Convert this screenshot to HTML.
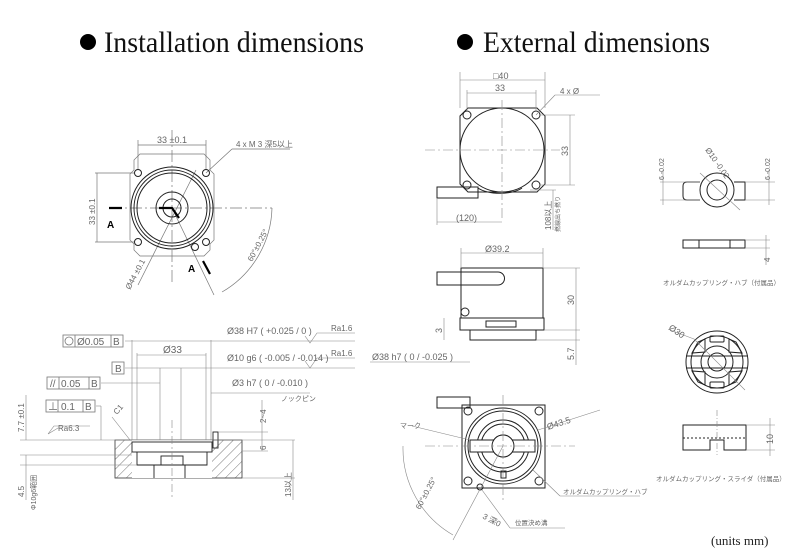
<!DOCTYPE html>
<html><head><meta charset="utf-8"><style>
html,body{margin:0;padding:0;background:#fff;}
svg{display:block;}
.t{font-family:"Liberation Sans","Noto Sans CJK JP",sans-serif;fill:#666;}
</style></head><body>
<svg width="800" height="560" viewBox="0 0 800 560" xmlns="http://www.w3.org/2000/svg">
<defs>
<pattern id="h" width="7" height="7" patternUnits="userSpaceOnUse" patternTransform="rotate(45)"><line x1="0" y1="0" x2="0" y2="7" stroke="#555" stroke-width="0.8"/></pattern>
</defs>
<rect width="800" height="560" fill="#fff"/>
<!-- titles -->
<circle cx="88" cy="42" r="8" fill="#000"/>
<text x="104" y="52" font-family="Liberation Serif,serif" font-size="30" textLength="260" lengthAdjust="spacingAndGlyphs" fill="#111">Installation dimensions</text>
<circle cx="465" cy="42" r="8" fill="#000"/>
<text x="483" y="52" font-family="Liberation Serif,serif" font-size="30" textLength="227" lengthAdjust="spacingAndGlyphs" fill="#111">External dimensions</text>
<text x="711" y="545" font-family="Liberation Serif,serif" font-size="13" fill="#222">(units mm)</text>

<g fill="none" stroke="#777" stroke-width="0.7">
<!-- TOP LEFT view -->
<path d="M134 170 L134 160 L140 154 L204 154 L210 160 L210 170 L214 174 L214 240 L210 244 L210 250 L204 256 L140 256 L134 250 L134 244 L130 240 L130 174 Z"/>
<line x1="110" y1="208" x2="272" y2="208" stroke-dasharray="12,3,2,3"/>
<line x1="172" y1="130" x2="172" y2="285" stroke-dasharray="12,3,2,3"/>
<line x1="138" y1="140" x2="138" y2="170"/><line x1="206" y1="140" x2="206" y2="170"/>
<line x1="138" y1="145" x2="206" y2="145"/>
<line x1="97" y1="173" x2="97" y2="242"/><line x1="95" y1="173" x2="135" y2="173"/><line x1="95" y1="242" x2="135" y2="242"/>
<line x1="206" y1="173" x2="232" y2="149"/><line x1="232" y1="149" x2="290" y2="149"/>
<line x1="172" y1="208" x2="214" y2="295"/>
<path d="M272 208 A100 100 0 0 1 222 292"/>
<line x1="138" y1="285" x2="196" y2="170"/>
</g>
<g fill="none" stroke="#222" stroke-width="1">
<circle cx="172" cy="208" r="41"/><circle cx="172" cy="208" r="38"/><circle cx="172" cy="208" r="35"/>
<circle cx="172" cy="208" r="16"/><circle cx="172" cy="208" r="9"/>
<circle cx="138" cy="173" r="3.5"/><circle cx="206" cy="173" r="3.5"/><circle cx="138" cy="242" r="3.5"/><circle cx="206" cy="242" r="3.5"/>
<circle cx="195" cy="247" r="3.5"/>
</g>
<path d="M109 208 L122 208 M159 208 L172 208 L179 218" stroke="#000" stroke-width="2.2" fill="none"/>
<path d="M203 261 L210 274" stroke="#000" stroke-width="2.2"/>
<text x="107" y="228" font-family="Liberation Sans,sans-serif" font-weight="bold" font-size="10">A</text>
<text x="188" y="272" font-family="Liberation Sans,sans-serif" font-weight="bold" font-size="10">A</text>
<text class="t" x="157" y="143" font-size="9">33 ±0.1</text>
<text class="t" x="236" y="147" font-size="8">4 x M 3 深5以上</text>
<text class="t" font-size="8" transform="translate(95,225) rotate(-90)">33 ±0.1</text>
<text class="t" font-size="8" transform="translate(130,290) rotate(-62)">Ø44 ±0.1</text>
<text class="t" font-size="8" transform="translate(252,262) rotate(-62)">60°±0.25°</text>

<!-- BOTTOM LEFT section -->
<rect x="115" y="440" width="127" height="38" fill="url(#h)" stroke="#333" stroke-width="0.8"/>
<rect x="132" y="440" width="80" height="38" fill="#fff" stroke="none"/>
<rect x="155" y="465" width="30" height="13" fill="#fff" stroke="none"/>
<g fill="none" stroke="#222" stroke-width="0.9">
<rect x="132" y="442" width="80" height="10"/>
<path d="M137 452 L137 465 L207 465 L207 452"/>
<rect x="161" y="456" width="22" height="9"/>
<path d="M154 465 L154 478 M185 465 L185 478"/>
<rect x="213" y="432" width="5" height="16"/>
</g>
<g fill="none" stroke="#888" stroke-width="0.6">
<line x1="20" y1="440" x2="295" y2="440"/><line x1="20" y1="455" x2="132" y2="455"/><line x1="20" y1="465" x2="137" y2="465"/>
<line x1="242" y1="478" x2="295" y2="478"/><line x1="242" y1="451" x2="268" y2="451"/><line x1="218" y1="432" x2="268" y2="432"/>
<line x1="132" y1="340" x2="132" y2="440"/><line x1="211" y1="340" x2="211" y2="440"/>
<line x1="137" y1="353" x2="137" y2="440"/><line x1="206" y1="353" x2="206" y2="440"/>
<line x1="137" y1="355" x2="206" y2="355"/>
<line x1="160" y1="368" x2="160" y2="440"/><line x1="181" y1="368" x2="181" y2="440"/>
<line x1="172" y1="420" x2="172" y2="500" stroke-dasharray="8,3,2,3"/>
<line x1="125" y1="341" x2="355" y2="341"/><line x1="125" y1="368" x2="355" y2="368"/>
<line x1="101" y1="383" x2="160" y2="383"/>
<line x1="96" y1="406" x2="101" y2="406"/><line x1="101" y1="406" x2="101" y2="440"/>
<line x1="211" y1="393" x2="310" y2="393"/>
<line x1="262" y1="400" x2="262" y2="432"/><line x1="262" y1="432" x2="262" y2="451"/>
<line x1="293" y1="440" x2="293" y2="500"/>
<line x1="26" y1="395" x2="26" y2="440"/><line x1="26" y1="455" x2="26" y2="500"/>
<line x1="130" y1="440" x2="112" y2="417"/>
<path d="M48 434 L58 428 L62 428 M48 434 L54 426 L90 426"/>
<path d="M305 336 L310 343 L317 333 L355 333 M305 361 L310 368 L317 358 L355 358"/>
</g>
<g fill="none" stroke="#777" stroke-width="0.8">
<rect x="63" y="335" width="60" height="12"/><line x1="75" y1="335" x2="75" y2="347"/><line x1="111" y1="335" x2="111" y2="347"/>
<circle cx="69" cy="341" r="4"/>
<rect x="112" y="362" width="12" height="12"/>
<rect x="47" y="377" width="53" height="12"/><line x1="59" y1="377" x2="59" y2="389"/><line x1="89" y1="377" x2="89" y2="389"/>
<rect x="46" y="400" width="49" height="12"/><line x1="58" y1="400" x2="58" y2="412"/><line x1="83" y1="400" x2="83" y2="412"/>
</g>
<text class="t" x="77" y="345" font-size="10">Ø0.05</text><text class="t" x="113" y="345" font-size="10">B</text>
<text class="t" x="115" y="372" font-size="10">B</text>
<text class="t" x="50" y="387" font-size="10">//</text><text class="t" x="61" y="387" font-size="10">0.05</text><text class="t" x="91" y="387" font-size="10">B</text>
<text class="t" x="48" y="410" font-size="10">⊥</text><text class="t" x="61" y="410" font-size="10">0.1</text><text class="t" x="85" y="410" font-size="10">B</text>
<text class="t" x="163" y="353" font-size="10">Ø33</text>
<text class="t" x="227" y="334" font-size="9">Ø38 H7 ( +0.025 / 0 )</text>
<text class="t" x="331" y="331" font-size="8">Ra1.6</text>
<text class="t" x="227" y="361" font-size="9">Ø10 g6 ( -0.005 / -0.014 )</text>
<text class="t" x="331" y="356" font-size="8">Ra1.6</text>
<text class="t" x="232" y="386" font-size="9">Ø3 h7 ( 0 / -0.010 )</text>
<text class="t" x="281" y="401" font-size="7">ノックピン</text>
<text class="t" x="58" y="431" font-size="8">Ra6.3</text>
<text class="t" font-size="8" transform="translate(117,415) rotate(-50)">C1</text>
<text class="t" font-size="8" transform="translate(24,432) rotate(-90)">7.7 ±0.1</text>
<text class="t" font-size="8" transform="translate(24,497) rotate(-90)">4.5</text>
<text class="t" font-size="7" transform="translate(36,510) rotate(-90)">Φ10g6範囲</text>
<text class="t" font-size="8" transform="translate(266,423) rotate(-90)">2~4</text>
<text class="t" font-size="8" transform="translate(266,450) rotate(-90)">6</text>
<text class="t" font-size="8" transform="translate(291,497) rotate(-90)">13以上</text>

<!-- RIGHT -->
<g fill="none" stroke="#222" stroke-width="1">
<path d="M468 108 L537 108 L545 116 L545 184 L537 192 L468 192 L460 184 L460 116 Z"/>
<circle cx="502" cy="150" r="42"/>
<circle cx="467" cy="115" r="4"/><circle cx="536" cy="115" r="4"/><circle cx="467" cy="185" r="4"/><circle cx="536" cy="185" r="4"/>
<path d="M437 187 L478 187 L478 198 L437 198 Z"/><path d="M478 188 A25 10 0 0 0 522 188"/>
<rect x="461" y="268" width="82" height="50"/>
<rect x="460" y="318" width="84" height="12"/>
<rect x="470" y="330" width="66" height="10"/>
<rect x="486" y="321" width="30" height="6"/>
<path d="M437 272 L498 272 A6.5 6.5 0 0 1 498 285 L437 285 Z"/>
<circle cx="465" cy="312" r="4"/>
<path d="M462 405 L545 405 L545 488 L462 488 Z"/>
<path d="M437 397 L470 397 L470 408 L437 408 Z"/>
<circle cx="503" cy="446" r="38"/><circle cx="503" cy="446" r="35"/><circle cx="503" cy="446" r="26"/><circle cx="503" cy="446" r="22"/>
<circle cx="503" cy="446" r="11"/>
<path d="M470 440 L535 440 L535 452 L470 452 Z" fill="#fff"/><circle cx="503" cy="446" r="11" fill="#fff"/>
<circle cx="468" cy="411" r="4"/><circle cx="539" cy="411" r="4"/><circle cx="468" cy="481" r="4"/><circle cx="539" cy="481" r="4"/>
<circle cx="480" cy="487" r="3"/><rect x="501" y="471" width="5" height="7"/>
<circle cx="717" cy="190" r="17"/><circle cx="717" cy="190" r="10"/>
<path d="M700 182 L687 182 Q683 182 683 186 L683 196 Q683 200 687 200 L700 200 M734 182 L745 182 L745 200 L734 200"/>
<rect x="683" y="240" width="62" height="8"/><line x1="699" y1="240" x2="699" y2="248"/><line x1="730" y1="240" x2="730" y2="248"/>
<circle cx="717" cy="362" r="31"/><circle cx="717" cy="362" r="26"/><circle cx="717" cy="362" r="16"/><circle cx="717" cy="362" r="9"/>
<line x1="686" y1="356" x2="748" y2="356"/><line x1="686" y1="368" x2="748" y2="368"/>
<rect x="710" y="336" width="14" height="6" rx="1"/><rect x="710" y="382" width="14" height="6" rx="1"/>
<path d="M692 353 L698 342 L705 339 L705 352 Z M742 353 L736 342 L729 339 L729 352 Z M692 371 L698 382 L705 385 L705 372 Z M742 371 L736 382 L729 385 L729 372 Z"/>
<path d="M683 425 L746 425 L746 450 L724 450 L724 440 L710 440 L710 450 L683 450 Z"/>
<line x1="683" y1="438" x2="746" y2="438" stroke-dasharray="2,2"/>
</g>
<g fill="none" stroke="#888" stroke-width="0.6">
<line x1="460" y1="72" x2="460" y2="108"/><line x1="545" y1="72" x2="545" y2="108"/><line x1="460" y1="80" x2="545" y2="80"/>
<line x1="467" y1="90" x2="467" y2="112"/><line x1="536" y1="90" x2="536" y2="112"/><line x1="467" y1="93" x2="536" y2="93"/>
<line x1="536" y1="115" x2="555" y2="95"/><line x1="555" y1="95" x2="600" y2="95"/>
<line x1="540" y1="115" x2="575" y2="115"/><line x1="540" y1="185" x2="575" y2="185"/><line x1="570" y1="115" x2="570" y2="185"/>
<line x1="425" y1="150" x2="560" y2="150" stroke-dasharray="10,3,2,3"/><line x1="502" y1="100" x2="502" y2="220" stroke-dasharray="10,3,2,3"/>
<line x1="437" y1="198" x2="437" y2="225"/><line x1="437" y1="222" x2="502" y2="222"/>
<line x1="530" y1="190" x2="556" y2="190"/><line x1="553" y1="190" x2="553" y2="230"/>
<line x1="461" y1="248" x2="461" y2="268"/><line x1="543" y1="248" x2="543" y2="268"/><line x1="461" y1="253" x2="543" y2="253"/>
<line x1="543" y1="268" x2="580" y2="268"/><line x1="544" y1="330" x2="580" y2="330"/><line x1="576" y1="268" x2="576" y2="330"/>
<line x1="536" y1="340" x2="580" y2="340"/><line x1="576" y1="330" x2="576" y2="365"/>
<line x1="370" y1="362" x2="470" y2="362"/><line x1="444" y1="318" x2="444" y2="340"/>
<line x1="425" y1="446" x2="575" y2="446" stroke-dasharray="10,3,2,3"/><line x1="503" y1="395" x2="503" y2="500" stroke-dasharray="10,3,2,3"/>
<line x1="538" y1="430" x2="600" y2="410"/>
<line x1="412" y1="426" x2="470" y2="440"/><line x1="503" y1="446" x2="453" y2="540"/>
<path d="M403 446 A100 100 0 0 0 453 535"/>
<line x1="533" y1="470" x2="560" y2="496"/><line x1="560" y1="496" x2="640" y2="496"/>
<line x1="482" y1="490" x2="510" y2="528"/><line x1="510" y1="528" x2="565" y2="528"/>
<line x1="700" y1="173" x2="740" y2="210"/><line x1="660" y1="182" x2="700" y2="182"/><line x1="660" y1="200" x2="700" y2="200"/>
<line x1="663" y1="170" x2="663" y2="205"/><line x1="745" y1="182" x2="775" y2="182"/><line x1="745" y1="200" x2="775" y2="200"/><line x1="769" y1="170" x2="769" y2="205"/>
<line x1="745" y1="240" x2="770" y2="240"/><line x1="745" y1="248" x2="770" y2="248"/><line x1="766" y1="235" x2="766" y2="265"/>
<line x1="694" y1="339" x2="745" y2="390"/><line x1="670" y1="330" x2="694" y2="339"/>
<line x1="746" y1="425" x2="775" y2="425"/><line x1="746" y1="450" x2="775" y2="450"/><line x1="770" y1="418" x2="770" y2="456"/>
<line x1="717" y1="410" x2="717" y2="455" stroke-dasharray="6,2,1,2"/>
</g>
<text class="t" x="493" y="79" font-size="9">□40</text>
<text class="t" x="495" y="91" font-size="9">33</text>
<text class="t" x="560" y="94" font-size="8">4 x Ø</text>
<text class="t" font-size="9" transform="translate(568,156) rotate(-90)">33</text>
<text class="t" x="456" y="221" font-size="9">(120)</text>
<text class="t" font-size="8" transform="translate(551,230) rotate(-90)">108以上</text>
<text class="t" font-size="6" transform="translate(560,232) rotate(-90)">撚線出ち撚り</text>
<text class="t" x="485" y="252" font-size="9">Ø39.2</text>
<text class="t" font-size="9" transform="translate(574,305) rotate(-90)">30</text>
<text class="t" font-size="9" transform="translate(442,333) rotate(-90)">3</text>
<text class="t" font-size="9" transform="translate(574,360) rotate(-90)">5.7</text>
<text class="t" x="372" y="360" font-size="9">Ø38 h7 ( 0 / -0.025 )</text>
<text class="t" font-size="9" transform="translate(548,430) rotate(-18)">Ø43.5</text>
<text class="t" x="400" y="428" font-size="7">マーク</text>
<text class="t" x="563" y="494" font-size="6.5">オルダムカップリング・ハブ</text>
<text class="t" x="515" y="525" font-size="6.5">位置決め溝</text>
<text class="t" font-size="8" transform="translate(482,518) rotate(28)">3 深0</text>
<text class="t" font-size="8" transform="translate(420,510) rotate(-62)">60°±0.25°</text>
<text class="t" font-size="7" transform="translate(664,180) rotate(-90)">6 -0.02</text>
<text class="t" font-size="7" transform="translate(770,180) rotate(-90)">6 -0.02</text>
<text class="t" font-size="8" transform="translate(705,150) rotate(55)">Ø10 -0.02</text>
<text class="t" font-size="8" transform="translate(770,262) rotate(-90)">4</text>
<text class="t" x="663" y="285" font-size="6.5">オルダムカップリング・ハブ（付属品）</text>
<text class="t" font-size="9" transform="translate(668,329) rotate(35)">Ø30</text>
<text class="t" font-size="9" transform="translate(773,444) rotate(-90)">10</text>
<text class="t" x="656" y="481" font-size="6.5">オルダムカップリング・スライダ（付属品）</text>
</svg>
</body></html>
